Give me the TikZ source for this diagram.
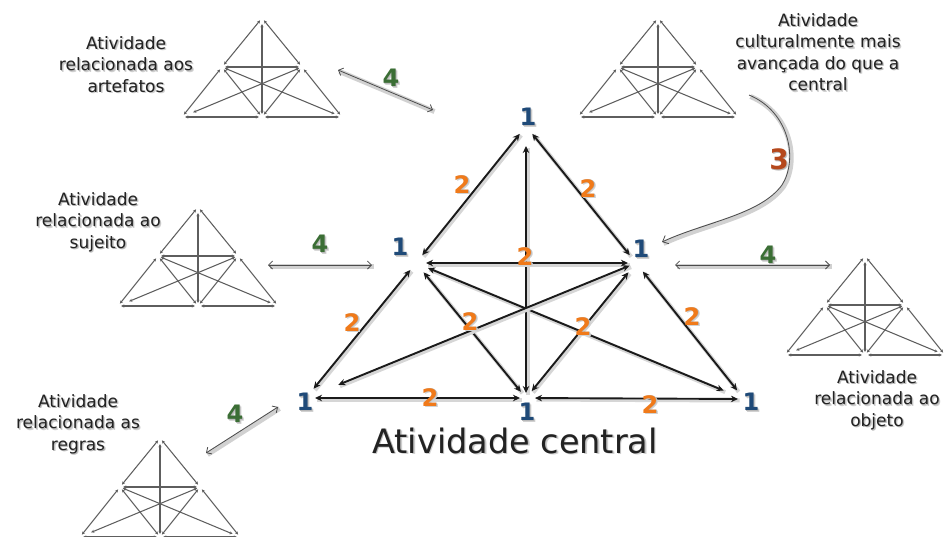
\documentclass[tikz,border=0pt]{standalone}
\usepackage{fontspec}
\setmainfont{DejaVu Sans}
\usetikzlibrary{arrows.meta}
\definecolor{onec}{HTML}{1F4A78}
\definecolor{twoc}{HTML}{F07A1A}
\definecolor{fourc}{HTML}{3B6E35}
\definecolor{threec}{HTML}{B5481C}
\definecolor{edgec}{HTML}{1A1A1A}
\definecolor{minic}{HTML}{5E5E5E}
\definecolor{txtc}{HTML}{222222}
\newcommand\shd[1]{\rlap{\raisebox{-1.6pt}{\hspace{1.6pt}\color{black!18}#1}}\rlap{\raisebox{-0.8pt}{\hspace{0.8pt}\color{black!28}#1}}#1}
\tikzset{
  link/.style={draw=edgec, line width=1.9pt,
    {Stealth[length=7pt,width=6.5pt]}-{Stealth[length=7pt,width=6.5pt]},
    preaction={draw=black!16, line width=4pt, -, transform canvas={shift={(1.5,1.5)}}}},
  mini/.style={draw=minic, line width=1.05pt, shorten <=3pt, shorten >=3pt,
    {Stealth[length=3.2pt,width=3pt]}-{Stealth[length=3.2pt,width=3pt]}},
  fourarrow/.style={draw=black!70, line width=0.8pt,
    {Straight Barb[length=4pt,width=8pt]}-{Straight Barb[length=4pt,width=8pt]},
    preaction={draw=black!18, line width=5pt, -, transform canvas={shift={(1.5,1.5)}}}},
  lbl/.style={align=center, text=txtc, font=\fontsize{17}{21.5}\selectfont, inner sep=0pt},
  one/.style={text=onec, font=\bfseries\fontsize{24}{24}\selectfont, inner sep=0pt},
  two/.style={text=twoc, font=\bfseries\fontsize{24}{24}\selectfont, inner sep=0pt},
  four/.style={text=fourc, font=\bfseries\fontsize{24}{24}\selectfont, inner sep=0pt},
  three/.style={text=threec, font=\bfseries\fontsize{28}{28}\selectfont, inner sep=0pt},
  pics/minitri/.style={code={
    \coordinate (-T) at (0,0);
    \coordinate (-L) at (-40,49);
    \coordinate (-R) at (40,49);
    \coordinate (-A) at (-80,99);
    \coordinate (-M) at (0,99);
    \coordinate (-B) at (80,99);
    \draw[mini] (-T) -- (-L);
    \draw[mini] (-T) -- (-R);
    \draw[mini, shorten <=6pt] (-T) -- (-M);
    \draw[mini] (-L) -- (-R);
    \draw[mini] (-L) -- (-A);
    \draw[mini] (-L) -- (-M);
    \draw[mini] (-R) -- (-M);
    \draw[mini] (-R) -- (-B);
    \draw[mini, shorten >=8pt] (-L) -- (-B);
    \draw[mini, shorten >=12pt] (-R) -- (-A);
    \draw[mini] (-A) -- (-M);
    \draw[mini] (-M) -- (-B);
  }}
}
\begin{document}
\begin{tikzpicture}[x=1pt,y=-1pt]
\clip (0,0) rectangle (948,536);
\fill[white] (0,0) rectangle (948,536);

% central triangle vertices
\coordinate (T) at (526,126);
\coordinate (L) at (416,263);
\coordinate (R) at (636,263);
\coordinate (A) at (306,398);
\coordinate (M) at (526,398);
\coordinate (B) at (744,399);

\draw[link, shorten <=10pt, shorten >=10pt] (T) -- (L);
\draw[link, shorten <=10pt, shorten >=10pt] (T) -- (R);
\draw[link, shorten <=20pt, shorten >=5pt] (T) -- (M);
\draw[link, shorten <=10pt, shorten >=8pt] (L) -- (R);
\draw[link, shorten <=9pt, shorten >=12pt] (L) -- (A);
\draw[link, shorten <=12pt, shorten >=8pt] (L) -- (M);
\draw[link, shorten <=12pt, shorten >=9pt] (R) -- (M);
\draw[link, shorten <=11pt, shorten >=11pt] (R) -- (B);
\draw[link, shorten <=13pt, shorten >=22pt] (L) -- (B);
\draw[link, shorten <=7pt, shorten >=35pt] (R) -- (A);
\draw[link, shorten <=9pt, shorten >=6pt] (A) -- (M);
\draw[link, shorten <=9pt, shorten >=6pt] (M) -- (B);

% vertex labels
\node[one] (nT) at (528,118) {\shd{1}};
\node[one] (nL) at (400,248) {\shd{1}};
\node[one] (nR) at (641,250) {\shd{1}};
\node[one] (nA) at (305,403) {\shd{1}};
\node[one] (nM) at (527,413) {\shd{1}};
\node[one] (nB) at (751,403) {\shd{1}};

% edge labels
\node[two] (eTL) at (462,185) {\shd{2}};
\node[two] (eTR) at (588,189) {\shd{2}};
\node[two] (eLR) at (525,257) {\shd{2}};
\node[two] (eLA) at (352,323) {\shd{2}};
\node[two] (eLM) at (470,322) {\shd{2}};
\node[two] (eRM) at (583,327) {\shd{2}};
\node[two] (eRB) at (692,317) {\shd{2}};
\node[two] (eAM) at (430,398) {\shd{2}};
\node[two] (eMB) at (650,405) {\shd{2}};

\node[text=txtc, font=\fontsize{33.5}{40}\selectfont, inner sep=0pt, anchor=base] (title) at (515,453) {\shd{Atividade central}};

% small triangles
\pic (tl) at (262,18) {minitri};
\pic (tr) at (658,18) {minitri};
\pic (ml) at (198,207) {minitri};
\pic (mr) at (865,256) {minitri};
\pic (bl) at (160,438) {minitri};

% their labels
\node[lbl] (tlt) at (126,65) {\shd{Atividade}\\\shd{relacionada aos}\\\shd{artefatos}};
\node[lbl] (trt) at (818,53) {\shd{Atividade}\\\shd{culturalmente mais}\\\shd{avançada do que a}\\\shd{central}};
\node[lbl] (mlt) at (98,223) {\shd{Atividade}\\\shd{relacionada ao}\\\shd{sujeito}};
\node[lbl] (mrt) at (877,401) {\shd{Atividade}\\\shd{relacionada ao}\\\shd{objeto}};
\node[lbl] (blt) at (78,425) {\shd{Atividade}\\\shd{relacionada as}\\\shd{regras}};

% relation arrows "4"
\coordinate (f1a) at (338,70);  \coordinate (f1b) at (433,110);
\coordinate (f2a) at (268,265); \coordinate (f2b) at (372,265);
\coordinate (f3a) at (675,265); \coordinate (f3b) at (830,265);
\coordinate (f4a) at (206,453); \coordinate (f4b) at (278,407);
\draw[fourarrow] (f1a) -- (f1b);
\draw[fourarrow] (f2a) -- (f2b);
\draw[fourarrow] (f3a) -- (f3b);
\draw[fourarrow] (f4a) -- (f4b);
\node[four] (g1) at (391,79) {\shd{4}};
\node[four] (g2) at (320,245) {\shd{4}};
\node[four] (g3) at (768,256) {\shd{4}};
\node[four] (g4) at (235,415) {\shd{4}};

% curved arrow "3"
\coordinate (c3a) at (749,95);
\coordinate (c3b) at (662,242);
\draw[draw=black!70, line width=0.8pt, -{Straight Barb[length=5pt,width=9pt]},
  preaction={draw=black!18, line width=5pt, -, transform canvas={shift={(1.5,1.5)}}}]
  (c3a) .. controls (790,112) and (798,160) .. (782,185)
        .. controls (760,215) and (705,222) .. (c3b);
\node[three] (h3) at (779,160) {\shd{3}};
\end{tikzpicture}
\end{document}
